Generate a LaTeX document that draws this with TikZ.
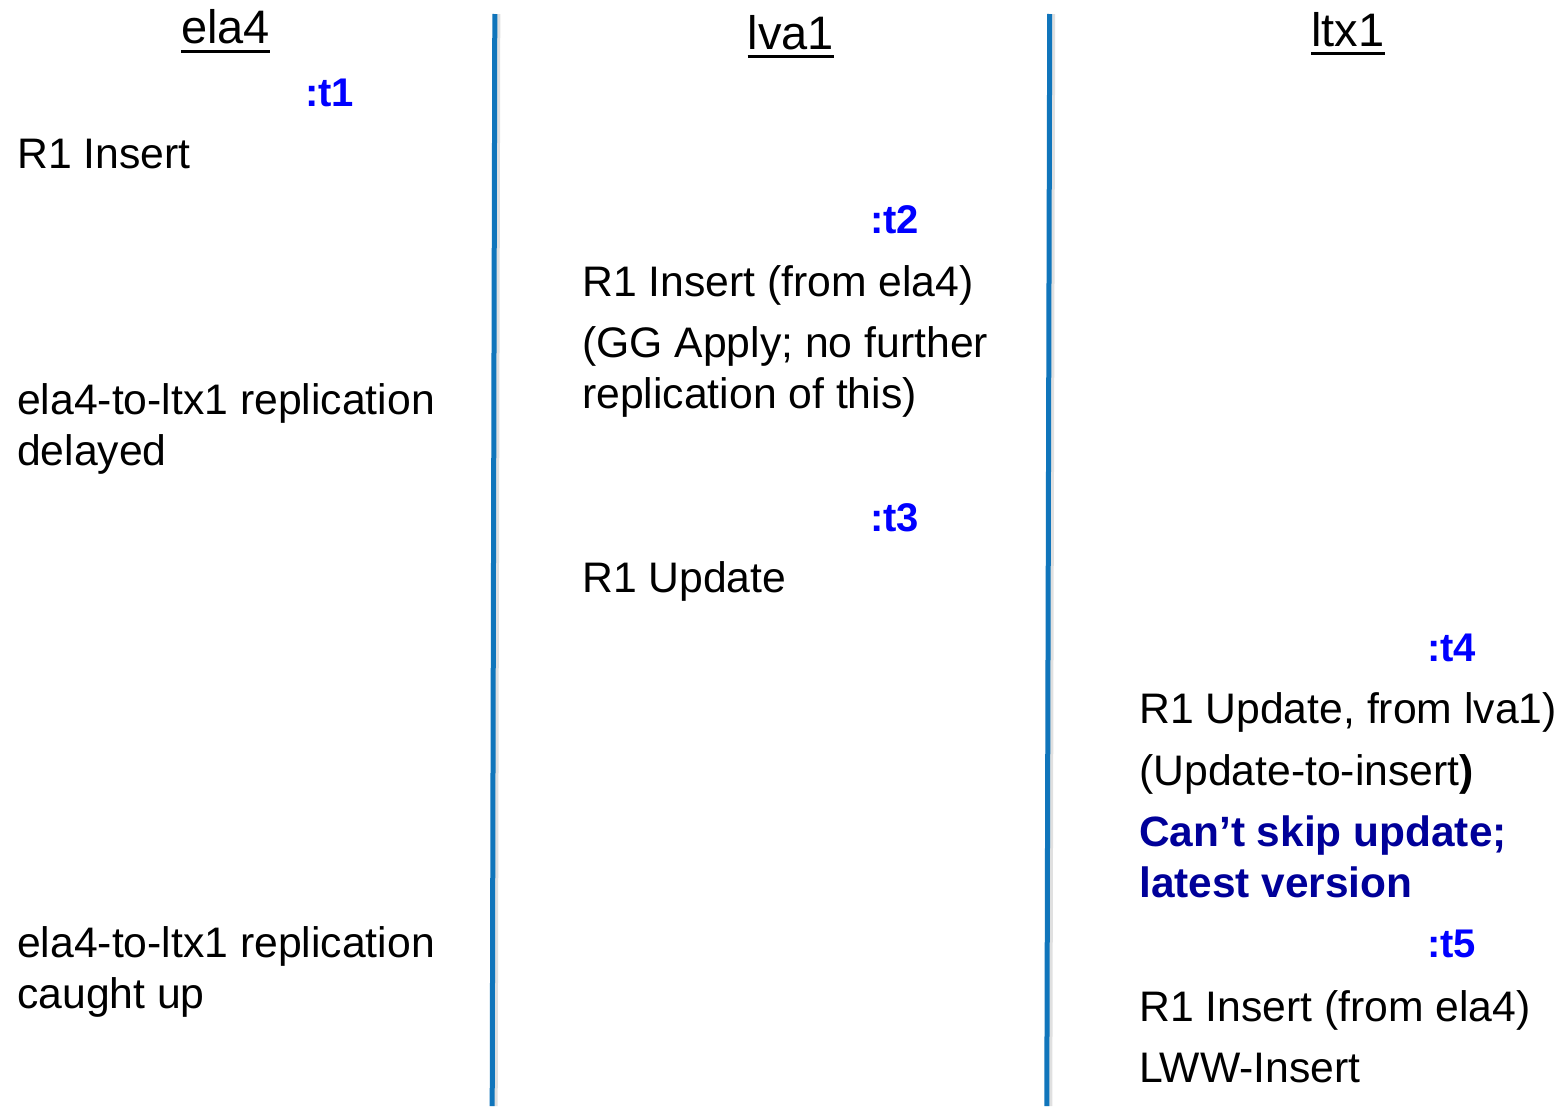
\documentclass[tikz,border=0pt]{standalone}
\usepackage{fontspec}
\setmainfont{Liberation Sans}
\definecolor{lanecol}{RGB}{16,117,187}
\definecolor{stampcol}{RGB}{0,0,255}
\definecolor{notecol}{RGB}{0,0,153}
\begin{document}
\begin{tikzpicture}[x=1pt,y=-1pt,
  body/.style={anchor=base west, inner sep=0pt, font=\fontsize{42.7}{51}\selectfont, text=black},
  stamp/.style={anchor=base west, inner sep=0pt, font=\fontsize{40}{47}\selectfont\bfseries, text=stampcol},
  note/.style={anchor=base west, inner sep=0pt, font=\fontsize{42.4}{51}\selectfont\bfseries, text=notecol},
  head/.style={anchor=base, inner sep=0pt, font=\fontsize{47}{56}\selectfont},
  lane/.style={draw=lanecol, line width=5pt},
  laneshadow/.style={draw=black!12, line width=7pt},
  uline/.style={line width=3pt}]
\useasboundingbox (0,0) rectangle (1565,1106);

% lane separators
\coordinate (l1top) at (494.8,14);
\coordinate (l1bot) at (492.2,1106);
\coordinate (l2top) at (1049.7,14);
\coordinate (l2bot) at (1046.8,1106);
\draw[laneshadow] ([xshift=2pt]l1top) -- ([xshift=2pt]l1bot);
\draw[laneshadow] ([xshift=2pt]l2top) -- ([xshift=2pt]l2bot);
\draw[lane] (l1top) -- (l1bot);
\draw[lane] (l2top) -- (l2bot);

% column headings
\node[head] (hela) at (225.5,43.5) {ela4};
\node[head] (hlva) at (791,49) {lva1};
\node[head] (hltx) at (1348,46) {ltx1};
\foreach \h in {hela,hlva,hltx}
  \draw[uline] ([yshift=-7.5pt]\h.base west) -- ([yshift=-7.5pt]\h.base east);

% ela4 column
\node[stamp] (t1) at (305,106) {:t1};
\node[body] (e1) at (17,168) {R1 Insert};
\node[body] (e2) at (17,414) {ela4-to-ltx1 replication};
\node[body] (e3) at (17,465) {delayed};
\node[body] (e4) at (17,957) {ela4-to-ltx1 replication};
\node[body] (e5) at (17,1008) {caught up};

% lva1 column
\node[stamp] (t2) at (870,233) {:t2};
\node[body] (v1) at (582,296) {R1 Insert (from ela4)};
\node[body] (v2) at (582,357) {(GG Apply; no further};
\node[body] (v3) at (582,408) {replication of this)};
\node[stamp] (t3) at (870,531) {:t3};
\node[body] (v4) at (582,592) {R1 Update};

% ltx1 column
\node[stamp] (t4) at (1427,661) {:t4};
\node[body] (x1) at (1139,723) {R1 Update, from lva1)};
\node[body] (x2) at (1139,785) {(Update-to-insert\textbf{)}};
\node[note] (x3) at (1139,846) {Can’t skip update;};
\node[note] (x4) at (1139,897) {latest version};
\node[stamp] (t5) at (1427,957) {:t5};
\node[body] (x5) at (1139,1021) {R1 Insert (from ela4)};
\node[body] (x6) at (1139,1082) {LWW-Insert};
\end{tikzpicture}
\end{document}
